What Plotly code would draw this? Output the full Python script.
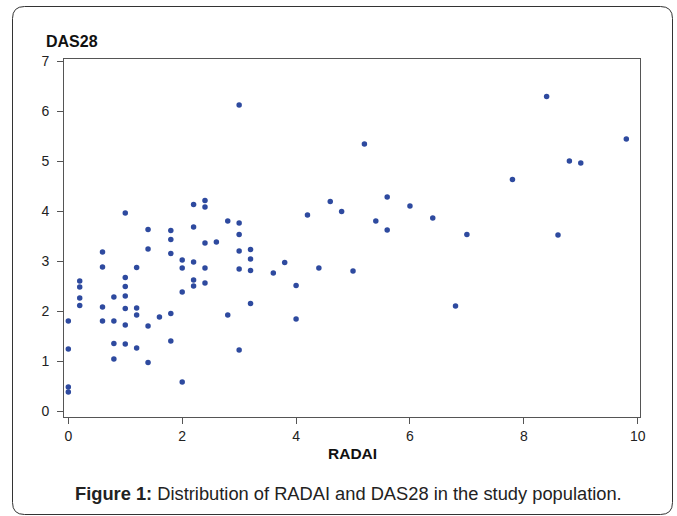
import plotly.graph_objects as go

# RADAI (x) and DAS28 (y) values
radai = [0, 0, 0, 0,
         0.2, 0.2, 0.2, 0.2,
         0.6, 0.6, 0.6, 0.6,
         0.8, 0.8, 0.8, 0.8,
         1.0, 1.0, 1.0, 1.0, 1.0, 1.0, 1.0,
         1.2, 1.2, 1.2, 1.2,
         1.4, 1.4, 1.4, 1.4,
         1.6,
         1.8, 1.8, 1.8, 1.8, 1.8,
         2.0, 2.0, 2.0, 2.0,
         2.2, 2.2, 2.2, 2.2, 2.2,
         2.4, 2.4, 2.4, 2.4, 2.4,
         2.6,
         2.8, 2.8,
         3.0, 3.0, 3.0, 3.0, 3.0, 3.0,
         3.2, 3.2, 3.2, 3.2,
         3.6, 3.8, 4.0, 4.0, 4.2, 4.4, 4.6, 4.8, 5.0, 5.2, 5.4,
         5.6, 5.6, 6.0, 6.4, 6.8, 7.0, 7.8, 8.4, 8.6, 8.8, 9.0, 9.8]
das28 = [1.80, 1.24, 0.48, 0.38,
         2.60, 2.48, 2.26, 2.11,
         3.18, 2.88, 2.08, 1.80,
         2.28, 1.80, 1.35, 1.04,
         3.96, 2.67, 2.49, 2.30, 2.05, 1.72, 1.34,
         2.87, 2.06, 1.92, 1.26,
         3.63, 3.24, 1.70, 0.97,
         1.88,
         3.61, 3.43, 3.15, 1.95, 1.40,
         3.02, 2.86, 2.38, 0.58,
         4.13, 3.68, 2.98, 2.62, 2.50,
         4.21, 4.08, 3.36, 2.86, 2.56,
         3.38,
         3.80, 1.92,
         6.12, 3.76, 3.53, 3.20, 2.84, 1.22,
         3.23, 3.04, 2.81, 2.15,
         2.76, 2.97, 2.51, 1.84, 3.92, 2.86, 4.19, 3.99, 2.80, 5.34, 3.80,
         4.28, 3.62, 4.10, 3.86, 2.10, 3.53, 4.63, 6.29, 3.52, 5.00, 4.96, 5.44]

x_ticks = [0, 2, 4, 6, 8, 10]
y_ticks = [0, 1, 2, 3, 4, 5, 6, 7]

W, H = 677, 516
L, R, T, B = 64, 640, 59, 417
pw, ph = R - L, B - T

def px(x):
    return (x - L) / pw

def py(y):
    return (B - y) / ph

fig = go.Figure()
fig.add_trace(go.Scatter(
    x=radai, y=das28, mode="markers",
    marker=dict(size=5.5, color="#2e4a9f", line=dict(width=0)),
    hoverinfo="x+y", showlegend=False,
))

font = "Liberation Sans, Arial, sans-serif"
axis_common = dict(
    showline=True, mirror=True, linecolor="#555555", linewidth=1,
    ticks="outside", ticklen=6, tickcolor="#555555", tickwidth=1,
    showgrid=False, zeroline=False,
    tickfont=dict(family=font, size=14, color="#222222"),
)

fig.update_xaxes(range=[-0.076, 10.04], tickvals=x_ticks, ticklabelstandoff=0, **axis_common)
fig.update_yaxes(range=[-0.12, 7.04], tickvals=y_ticks, ticklabelstandoff=5, **axis_common)

# rounded outer frame
x0, x1, y0, y1, r = 12.5, 672.5, 6.5, 514.5, 12
path = (f"M {px(x0 + r)} {py(y0)} L {px(x1 - r)} {py(y0)} "
        f"Q {px(x1)} {py(y0)} {px(x1)} {py(y0 + r)} "
        f"L {px(x1)} {py(y1 - r)} Q {px(x1)} {py(y1)} {px(x1 - r)} {py(y1)} "
        f"L {px(x0 + r)} {py(y1)} Q {px(x0)} {py(y1)} {px(x0)} {py(y1 - r)} "
        f"L {px(x0)} {py(y0 + r)} Q {px(x0)} {py(y0)} {px(x0 + r)} {py(y0)} Z")
fig.add_shape(type="path", path=path, xref="paper", yref="paper",
              line=dict(color="#333333", width=1), layer="below")

fig.add_annotation(text="<b>DAS28</b>", x=px(44), y=py(41), xref="paper", yref="paper",
                   xanchor="left", yanchor="middle", showarrow=False,
                   font=dict(family=font, size=16, color="#111111"))
fig.add_annotation(text="<b>RADAI</b>", x=px(352), y=py(453), xref="paper", yref="paper",
                   xanchor="center", yanchor="middle", showarrow=False,
                   font=dict(family=font, size=15.5, color="#111111"))
fig.add_annotation(text="<b>Figure 1:</b> Distribution of RADAI and DAS28 in the study population.",
                   x=px(348), y=py(493), xref="paper", yref="paper",
                   xanchor="center", yanchor="middle", showarrow=False,
                   font=dict(family=font, size=18.3, color="#222222"))

fig.update_layout(
    width=W, height=H,
    margin=dict(l=L, r=W - R, t=T, b=H - B, pad=0),
    paper_bgcolor="white", plot_bgcolor="white",
)

fig.write_html("out.html", config={"displayModeBar": False},
               post_script="document.body.style.margin='0';document.body.style.overflow='hidden';")
